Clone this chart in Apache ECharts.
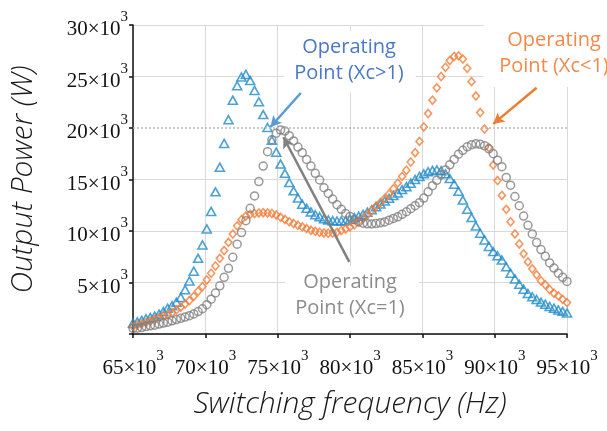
<!DOCTYPE html>
<html>
<head>
<meta charset="utf-8">
<script src="https://cdn.jsdelivr.net/npm/echarts@6/dist/echarts.min.js"></script>
<style>
html, body { margin: 0; padding: 0; background: #fff; }
#main { width: 607px; height: 431px; }
</style>
</head>
<body>
<div id="main"></div>
<script>
// switching frequency, x10^3 Hz
var freqs = [
    65, 65.3, 65.6, 65.9, 66.2, 66.5, 66.8, 67.1, 67.4, 67.7,
    68, 68.3, 68.6, 68.9, 69.2, 69.5, 69.8, 70.1, 70.4, 70.7,
    71, 71.3, 71.6, 71.9, 72.2, 72.5, 72.8, 73.1, 73.4, 73.7,
    74, 74.3, 74.6, 74.9, 75.2, 75.5, 75.8, 76.1, 76.4, 76.7,
    77, 77.3, 77.6, 77.9, 78.2, 78.5, 78.8, 79.1, 79.4, 79.7,
    80, 80.3, 80.6, 80.9, 81.2, 81.5, 81.8, 82.1, 82.4, 82.7,
    83, 83.3, 83.6, 83.9, 84.2, 84.5, 84.8, 85.1, 85.4, 85.7,
    86, 86.3, 86.6, 86.9, 87.2, 87.5, 87.8, 88.1, 88.4, 88.7,
    89, 89.3, 89.6, 89.9, 90.2, 90.5, 90.8, 91.1, 91.4, 91.7,
    92, 92.3, 92.6, 92.9, 93.2, 93.5, 93.8, 94.1, 94.4, 94.7,
    95
];

// output power, x10^3 W
var powerXcGt1 = [
    1.05, 1.17, 1.32, 1.48, 1.6, 1.74, 1.93, 2.18, 2.5, 2.75,
    3.08, 3.55, 4.3, 5.15, 6.1, 7.35, 8.65, 10.2, 11.9, 13.8,
    16.2, 18.5, 20.8, 22.7, 24.1, 24.95, 25.2, 24.6, 23.65, 22.55,
    21.3, 20.05, 18.8, 17.65, 16.5, 15.6, 14.7, 13.9, 13.2, 12.6,
    12.2, 11.85, 11.58, 11.38, 11.2, 11.08, 11.0, 10.97, 10.97, 11.0,
    11.15, 11.3, 11.43, 11.62, 11.83, 12.07, 12.36, 12.62, 12.91, 13.18,
    13.45, 13.7, 14.02, 14.3, 14.63, 15.0, 15.3, 15.55, 15.75, 15.88,
    15.93, 15.85, 15.55, 15.1, 14.55, 13.85, 13.0, 12.1, 11.3, 10.48,
    9.78, 9.13, 8.5, 8.0, 7.6, 7.18, 6.52, 5.9, 5.35, 4.82,
    4.35, 3.93, 3.62, 3.35, 3.1, 2.9, 2.67, 2.51, 2.34, 2.2,
    2.05
];

var powerXcLt1 = [
    0.72, 0.87, 0.98, 1.12, 1.26, 1.4, 1.57, 1.73, 1.9, 2.08,
    2.35, 2.6, 2.9, 3.25, 3.65, 4.15, 4.6, 5.25, 5.9, 6.6,
    7.35, 8.1, 8.9, 9.7, 10.5, 11.1, 11.45, 11.62, 11.7, 11.75,
    11.78, 11.75, 11.7, 11.56, 11.33, 11.12, 10.9, 10.73, 10.56, 10.4,
    10.24, 10.08, 9.97, 9.88, 9.81, 9.78, 9.8, 9.87, 10.05, 10.2,
    10.38, 10.6, 10.9, 11.25, 11.56, 11.98, 12.4, 12.74, 13.15, 13.6,
    14.1, 14.65, 15.3, 15.9, 16.7, 17.6, 18.7, 20.1, 21.4, 22.7,
    23.9, 25.0, 25.9, 26.55, 26.95, 27.0, 26.7, 25.8, 24.5, 23.1,
    21.5, 19.9, 18.1, 16.4, 14.9, 13.45, 12.1, 10.9, 9.72, 8.74,
    7.78, 7.0, 6.33, 5.75, 5.17, 4.77, 4.32, 3.95, 3.7, 3.36,
    3.05
];

var powerXcEq1 = [
    0.55, 0.56, 0.62, 0.72, 0.79, 0.86, 0.96, 1.06, 1.15, 1.28,
    1.4, 1.52, 1.64, 1.78, 1.95, 2.18, 2.45, 2.85, 3.38, 3.98,
    4.68, 5.5, 6.38, 7.45, 8.72, 9.85, 11.0, 12.2, 13.4, 14.8,
    16.3, 17.7, 18.85, 19.5, 19.8, 19.7, 19.25, 18.75, 18.15, 17.6,
    16.95, 16.3, 15.6, 14.95, 14.2, 13.65, 13.1, 12.55, 12.1, 11.7,
    11.4, 11.1, 10.88, 10.76, 10.7, 10.68, 10.72, 10.79, 10.88, 11.05,
    11.22, 11.38, 11.62, 11.87, 12.17, 12.46, 12.75, 13.2, 13.8, 14.4,
    14.92, 15.45, 15.93, 16.42, 16.95, 17.45, 17.83, 18.17, 18.38, 18.46,
    18.42, 18.27, 17.98, 17.5, 16.88, 16.25, 15.2, 14.45, 13.35, 12.45,
    11.45, 10.55, 9.72, 8.88, 8.2, 7.55, 6.9, 6.4, 5.9, 5.5,
    5.1
];

var xTicks = { min: 65, max: 95, step: 5 };
var yTicks = { min: 0, max: 30, step: 5 };
var targetPower = 20;

// annotation arrows [from, to] in data units
var arrowXcGt1 = [[76.6, 23.4], [74.5, 20.1]];
var arrowXcLt1 = [[92.9, 23.9], [89.9, 20.4]];
var arrowXcEq1 = [[79.95, 7.0], [75.4, 19.1]];

function pairs(ys) {
    var out = [];
    for (var i = 0; i < freqs.length; i++) {
        out.push([freqs[i], ys[i]]);
    }
    return out;
}

// "65×10³" with a real raised exponent; {s| } is a strut that sets the line height
function sciLabel(value) {
    return '{s| }{a|' + value + '×10}{b|3}';
}

var labelRich = {
    s: { fontSize: 1, lineHeight: 30 },
    a: { fontFamily: 'Liberation Serif', fontSize: 21, lineHeight: 20, color: '#111', verticalAlign: 'bottom' },
    b: { fontFamily: 'Liberation Serif', fontSize: 15, lineHeight: 18, color: '#111', verticalAlign: 'top' }
};

function arrowLine(a, color) {
    return [
        { coord: a[0], symbol: 'none' },
        { coord: a[1], symbol: 'arrow', symbolSize: [9, 11], lineStyle: { color: color, width: 2.5 } }
    ];
}

var myChart = echarts.init(document.getElementById('main'));

var option = {
    animation: false,
    backgroundColor: '#fff',
    grid: { left: 132, right: 40, top: 25, bottom: 97 },
    xAxis: {
        type: 'value',
        min: xTicks.min,
        max: xTicks.max,
        interval: xTicks.step,
        name: 'Switching frequency (Hz)',
        nameLocation: 'middle',
        nameGap: 55,
        nameTextStyle: { fontFamily: 'Open Sans', fontStyle: 'italic', fontWeight: 300, fontSize: 30, color: '#1a1a1a' },
        axisLine: { onZero: false, lineStyle: { color: '#111', width: 1.5 } },
        axisTick: { length: 4, lineStyle: { color: '#111', width: 1.5 } },
        axisLabel: { margin: 15, formatter: sciLabel, rich: labelRich },
        splitLine: { show: true, lineStyle: { color: '#d9d9d9', width: 1 } }
    },
    yAxis: {
        type: 'value',
        min: yTicks.min,
        max: yTicks.max,
        interval: yTicks.step,
        name: 'Output Power (W)',
        nameLocation: 'middle',
        nameRotate: 90,
        nameGap: 95,
        nameTextStyle: { fontFamily: 'Open Sans', fontStyle: 'italic', fontWeight: 300, fontSize: 30, color: '#1a1a1a' },
        axisLine: { show: true, lineStyle: { color: '#111', width: 1.5 } },
        axisTick: { show: true, length: 4, lineStyle: { color: '#111', width: 1.5 } },
        axisLabel: {
            margin: 5,
            formatter: function (v) { return v === 0 ? '' : sciLabel(v); },
            rich: labelRich
        },
        splitLine: {
            show: true,
            lineStyle: {
                color: ['#d9d9d9', '#d9d9d9', '#d9d9d9', '#d9d9d9', 'rgba(0,0,0,0)', '#d9d9d9', '#d9d9d9'],
                width: 1
            }
        }
    },
    graphic: [
        {
            type: 'text', x: 350, y: 31, z: 10,
            style: {
                text: 'Operating\nPoint (Xc>1)', align: 'center', verticalAlign: 'top',
                font: '20px "Open Sans"', lineHeight: 26, fill: '#4a78c6',
                backgroundColor: '#fff', padding: [3, 12, 6, 10]
            }
        },
        {
            type: 'text', x: 556, y: 25, z: 10,
            style: {
                text: 'Operating\nPoint (Xc<1)', align: 'center', verticalAlign: 'top',
                font: '20px "Open Sans"', lineHeight: 26, fill: '#f08a4b',
                backgroundColor: '#fff', padding: [2, 20, 8, 16]
            }
        },
        {
            type: 'text', x: 352, y: 266, z: 10,
            style: {
                text: 'Operating\nPoint (Xc=1)', align: 'center', verticalAlign: 'top',
                font: '20px "Open Sans"', lineHeight: 26, fill: '#8c8c8c',
                backgroundColor: '#fff', padding: [3, 14, 10, 10]
            }
        }
    ],
    series: [
        {
            name: 'Xc>1',
            type: 'scatter',
            symbol: 'triangle',
            symbolSize: [9, 8],
            itemStyle: { color: 'rgba(0,0,0,0)', borderColor: '#1f8bc9', borderWidth: 1.6 },
            data: pairs(powerXcGt1),
            markLine: {
                silent: true,
                animation: false,
                symbol: 'none',
                label: { show: false },
                lineStyle: { color: '#5b9bd5', width: 2.5, type: 'solid' },
                data: [arrowLine(arrowXcGt1, '#5b9bd5')]
            }
        },
        {
            name: 'Xc<1',
            type: 'scatter',
            symbol: 'diamond',
            symbolSize: [7, 8],
            itemStyle: { color: 'rgba(0,0,0,0)', borderColor: '#f47a36', borderWidth: 1.6 },
            data: pairs(powerXcLt1),
            markLine: {
                silent: true,
                animation: false,
                symbol: 'none',
                label: { show: false },
                lineStyle: { color: '#ed7d31', width: 2.5, type: 'solid' },
                data: [arrowLine(arrowXcLt1, '#ed7d31')]
            }
        },
        {
            name: 'Xc=1',
            type: 'scatter',
            symbol: 'circle',
            symbolSize: 8,
            itemStyle: { color: 'rgba(0,0,0,0)', borderColor: '#7f7f7f', borderWidth: 1.5 },
            data: pairs(powerXcEq1),
            markLine: {
                silent: true,
                animation: false,
                symbol: 'none',
                label: { show: false },
                lineStyle: { color: '#808080', width: 2.5, type: 'solid' },
                data: [
                    { yAxis: targetPower, lineStyle: { color: '#b8b8b8', width: 1.5, type: [2, 2] } },
                    arrowLine(arrowXcEq1, '#808080')
                ]
            }
        }
    ]
};

myChart.setOption(option);
</script>
</body>
</html>
